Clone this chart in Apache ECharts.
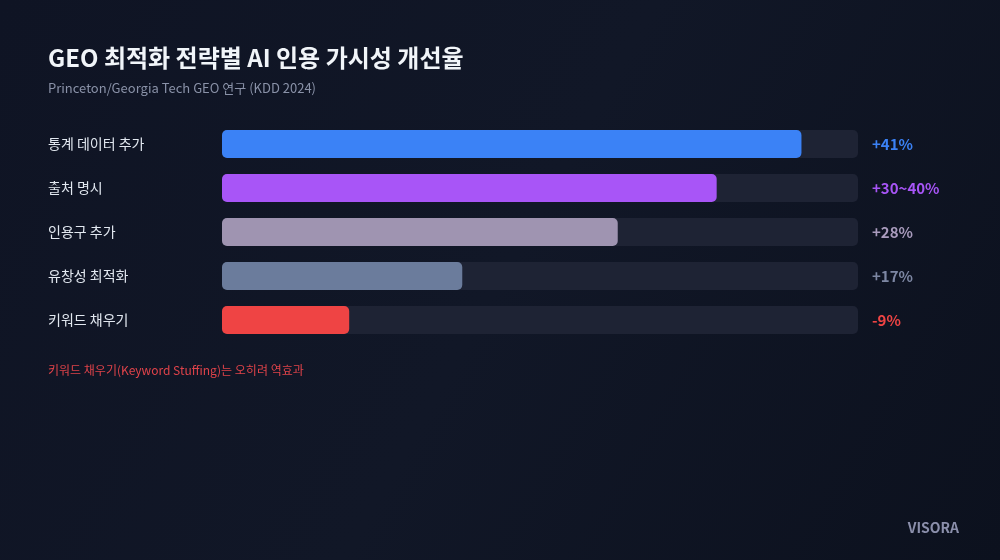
<!DOCTYPE html>
<html><head><meta charset="utf-8">
<script src="https://cdn.jsdelivr.net/npm/echarts@6/dist/echarts.min.js"></script>
<style>
html,body{margin:0;padding:0;background:#0e1322;}
#c{width:1000px;height:560px;}
</style></head>
<body><div id="c"></div>
<script>
const categories = ['통계 데이터 추가', '출처 명시', '인용구 추가', '유창성 최적화', '키워드 채우기'];
const barValues = [41, 35, 28, 17, 9];
const valueLabels = ['+41%', '+30~40%', '+28%', '+17%', '-9%'];
const barColors = ['#3b82f6', '#a855f7', '#9f94b1', '#6b7c9c', '#ef4444'];
const labelColors = ['#3b82f6', '#a855f7', '#a99bbd', '#7d87a3', '#ef4444'];
const scaleMax = 45;

const FONT = '"Noto Sans CJK KR", "Noto Sans", sans-serif';
const chart = echarts.init(document.getElementById('c'));
chart.setOption({
  backgroundColor: {
    type: 'linear', x: 0, y: 0, x2: 1, y2: 1,
    colorStops: [
      {offset: 0, color: '#0f1424'},
      {offset: 0.5, color: '#111727'},
      {offset: 1, color: '#0c111e'}
    ]
  },
  textStyle: {fontFamily: FONT},
  title: {
    left: 43, top: 41,
    text: 'GEO 최적화 전략별 AI 인용 가시성 개선율',
    subtext: 'Princeton/Georgia Tech GEO 연구 (KDD 2024)',
    itemGap: 12,
    textStyle: {color: '#f1f5f9', fontSize: 24, fontWeight: 'bold', fontFamily: FONT},
    subtextStyle: {color: '#8a92a8', fontSize: 13, fontFamily: FONT}
  },
  grid: {left: 222, right: 142, top: 122, bottom: 218},
  xAxis: {type: 'value', min: 0, max: scaleMax, show: false},
  yAxis: {
    type: 'category', data: categories, inverse: true,
    axisLine: {show: false}, axisTick: {show: false},
    axisLabel: {
      align: 'left', margin: 174, color: '#e2e8f0', fontSize: 14, fontFamily: FONT
    }
  },
  series: [
    {
      type: 'bar', barWidth: 28, silent: true, z: 1,
      data: categories.map((c, i) => ({
        value: scaleMax,
        label: {
          show: true, position: 'right', distance: 14,
          formatter: valueLabels[i], color: labelColors[i],
          fontSize: 15, fontWeight: 'bold', fontFamily: FONT
        }
      })),
      itemStyle: {color: '#1e2334', borderRadius: 5}
    },
    {
      type: 'bar', barWidth: 28, barGap: '-100%', z: 2,
      data: barValues.map((v, i) => ({value: v, itemStyle: {color: barColors[i]}})),
      itemStyle: {borderRadius: 5}
    }
  ],
  graphic: [
    {type: 'text', left: 48, top: 364,
     style: {text: '키워드 채우기(Keyword Stuffing)는 오히려 역효과', fill: '#e0434a', fontSize: 12, fontFamily: FONT}},
    {type: 'text', right: 41, top: 521,
     style: {text: 'VISORA', fill: '#8b8fab', fontSize: 14, fontWeight: 'bold', fontFamily: FONT}}
  ]
});
</script></body></html>
